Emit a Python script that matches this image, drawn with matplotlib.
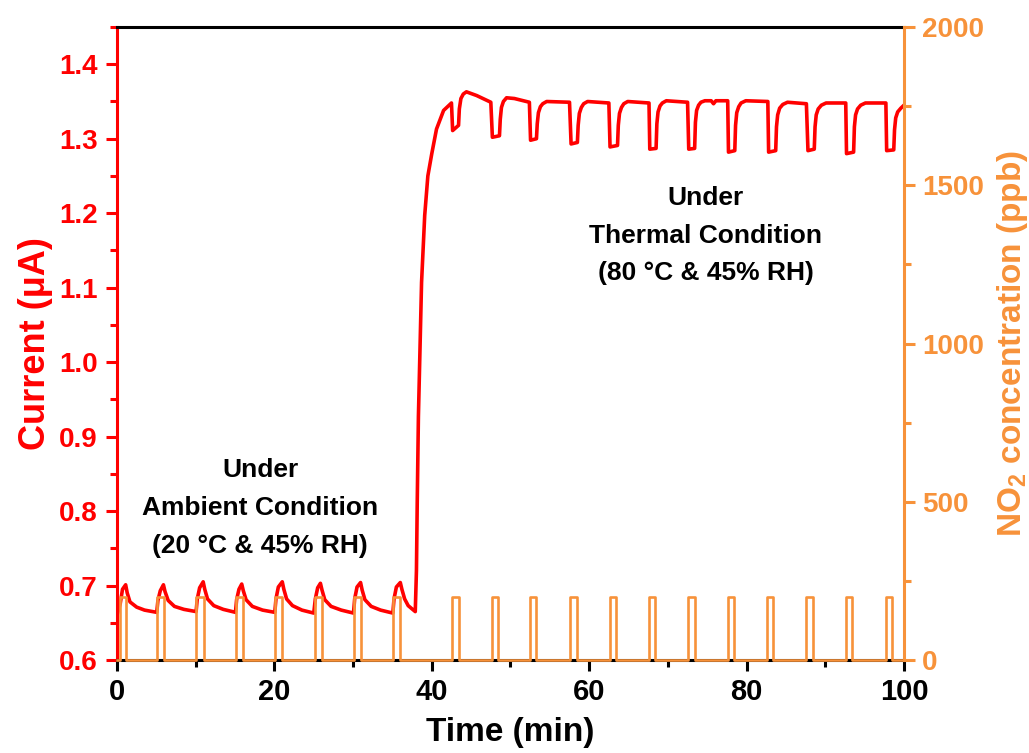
import numpy as np
import matplotlib
matplotlib.use("Agg")
import matplotlib.pyplot as plt
from matplotlib.ticker import MultipleLocator

plt.rcParams['font.family'] = ['Liberation Sans', 'DejaVu Sans']
plt.rcParams['font.weight'] = 'bold'
plt.rcParams['mathtext.fontset'] = 'custom'
plt.rcParams['mathtext.rm'] = 'Liberation Sans:bold'
plt.rcParams['mathtext.bf'] = 'Liberation Sans:bold'
plt.rcParams['mathtext.default'] = 'bf'

RED = '#ff0000'
ORANGE = '#f7923a'

# current response (min, uA)
time_min = [
    0.0, 0.4, 0.7, 1.1, 1.3, 1.65, 2.5, 3.5, 5.05,
    5.2, 5.5, 5.9, 6.1, 6.5, 7.3, 8.5, 10.05,
    10.2, 10.5, 10.95, 11.15, 11.5, 12.3, 13.5, 15.05,
    15.2, 15.5, 15.85, 16.05, 16.4, 17.2, 18.5, 20.05,
    20.2, 20.5, 21.0, 21.2, 21.55, 22.3, 23.5, 25.0,
    25.2, 25.5, 25.85, 26.05, 26.4, 27.2, 28.5, 30.05,
    30.2, 30.5, 30.95, 31.15, 31.5, 32.3, 33.5, 35.05,
    35.2, 35.5, 36.0, 36.2, 36.55, 37.0, 37.9,
    38.05, 38.15, 38.3, 38.5, 38.7, 39.1, 39.5, 40.0, 40.6, 41.5, 42.5,
    42.65, 43.4, 43.5, 43.7, 44.0, 44.4, 45.7, 47.5,
    47.7, 48.6, 48.7, 48.85, 49.1, 49.5, 50.5, 52.4,
    52.55, 53.3, 53.4, 53.55, 53.8, 54.1, 54.6, 57.5,
    57.7, 58.5, 58.6, 58.75, 59.0, 59.3, 59.8, 62.5,
    62.65, 63.6, 63.7, 63.85, 64.1, 64.4, 64.9, 67.6,
    67.7, 68.5, 68.6, 68.75, 69.0, 69.3, 69.8, 72.5,
    72.65, 73.4, 73.5, 73.65, 73.9, 74.2, 74.7, 75.5, 75.8, 76.1, 77.6,
    77.7, 78.5, 78.6, 78.75, 79.0, 79.3, 79.9, 82.7,
    82.8, 83.7, 83.8, 83.95, 84.2, 84.6, 85.2, 87.6,
    87.8, 88.6, 88.7, 88.85, 89.1, 89.5, 90.1, 92.6,
    92.7, 93.6, 93.7, 93.85, 94.1, 94.5, 95.1, 97.7,
    97.8, 98.7, 98.8, 98.95, 99.2, 99.6, 100.0,
]
current_uA = [
    0.660, 0.675, 0.695, 0.701, 0.690, 0.678, 0.671, 0.667, 0.664,
    0.680, 0.693, 0.701, 0.692, 0.680, 0.672, 0.668, 0.665,
    0.682, 0.697, 0.705, 0.695, 0.682, 0.673, 0.668, 0.664,
    0.681, 0.695, 0.702, 0.693, 0.681, 0.672, 0.667, 0.664,
    0.682, 0.698, 0.705, 0.695, 0.682, 0.673, 0.667, 0.663,
    0.682, 0.697, 0.703, 0.694, 0.681, 0.672, 0.667, 0.663,
    0.682, 0.698, 0.704, 0.694, 0.681, 0.672, 0.667, 0.663,
    0.682, 0.698, 0.704, 0.695, 0.682, 0.673, 0.665,
    0.720, 0.811, 0.927, 1.020, 1.107, 1.197, 1.250, 1.280, 1.313, 1.338, 1.348,
    1.311, 1.318, 1.340, 1.354, 1.360, 1.363, 1.358, 1.349,
    1.302, 1.304, 1.326, 1.342, 1.350, 1.355, 1.354, 1.349,
    1.298, 1.300, 1.320, 1.335, 1.343, 1.347, 1.350, 1.349,
    1.293, 1.295, 1.318, 1.334, 1.342, 1.347, 1.350, 1.348,
    1.289, 1.291, 1.318, 1.334, 1.342, 1.347, 1.350, 1.348,
    1.286, 1.287, 1.320, 1.336, 1.344, 1.348, 1.351, 1.349,
    1.286, 1.287, 1.322, 1.338, 1.345, 1.349, 1.351, 1.351, 1.347, 1.351, 1.351,
    1.282, 1.284, 1.318, 1.335, 1.343, 1.348, 1.351, 1.350,
    1.282, 1.284, 1.316, 1.332, 1.341, 1.346, 1.349, 1.347,
    1.284, 1.286, 1.316, 1.332, 1.340, 1.345, 1.348, 1.348,
    1.280, 1.282, 1.316, 1.332, 1.340, 1.345, 1.348, 1.348,
    1.284, 1.285, 1.312, 1.328, 1.336, 1.341, 1.345,
]

# NO2 pulses (min) and level (ppb)
pulse_on = [0.4, 5.1, 10.1, 15.1, 20.1, 25.1, 30.1, 35.1,
            42.6, 47.6, 52.5, 57.6, 62.6, 67.6, 72.6, 77.6, 82.6, 87.6, 92.6, 97.7]
pulse_off = [1.2, 6.0, 11.0, 16.0, 21.0, 26.0, 31.0, 36.0,
             43.4, 48.4, 53.3, 58.4, 63.4, 68.4, 73.4, 78.4, 83.4, 88.4, 93.4, 98.5]
no2_ppb = 200

# step trace for the gas
gas_t = [0.0]
gas_c = [0]
for a, b in zip(pulse_on, pulse_off):
    gas_t += [a, a, b, b]
    gas_c += [0, no2_ppb, no2_ppb, 0]
gas_t.append(100.0)
gas_c.append(0)

fig = plt.figure(figsize=(10.29, 7.53), dpi=100)
ax = fig.add_axes([0.1137, 0.1235, 0.7648, 0.8406])
ax2 = ax.twinx()

ax.plot(time_min, current_uA, color=RED, lw=2.6, zorder=3, solid_joinstyle='round')
ax2.plot(gas_t, gas_c, color=ORANGE, lw=1.9, clip_on=False, zorder=5)

ax.set_xlim(0, 100)
ax.set_ylim(0.6, 1.45)
ax2.set_ylim(0, 2000)

ax.xaxis.set_major_locator(MultipleLocator(20))
ax.xaxis.set_minor_locator(MultipleLocator(10))
ax.yaxis.set_major_locator(MultipleLocator(0.1))
ax.yaxis.set_minor_locator(MultipleLocator(0.05))
ax2.yaxis.set_major_locator(MultipleLocator(500))
ax2.yaxis.set_minor_locator(MultipleLocator(250))

for s in ['top', 'bottom']:
    ax.spines[s].set_color('black')
    ax.spines[s].set_linewidth(2.2)
ax.spines['left'].set_color(RED)
ax.spines['left'].set_linewidth(2.2)
ax.spines['right'].set_visible(False)
for s in ['top', 'bottom', 'left']:
    ax2.spines[s].set_visible(False)
ax2.spines['right'].set_color(ORANGE)
ax2.spines['right'].set_linewidth(2.2)

ax.tick_params(axis='x', which='major', direction='out', length=8, width=2.2,
               colors='black', labelsize=21, pad=5)
ax.tick_params(axis='x', which='minor', direction='out', length=5, width=2.2, colors='black')
ax.tick_params(axis='y', which='major', direction='out', length=8, width=2.2,
               colors=RED, labelsize=20, pad=6)
ax.tick_params(axis='y', which='minor', direction='out', length=5, width=2.2, colors=RED)
ax2.tick_params(axis='y', which='major', direction='out', length=8, width=2.2,
                colors=ORANGE, labelsize=20, pad=5)
ax2.tick_params(axis='y', which='minor', direction='out', length=5, width=2.2, colors=ORANGE)
for lab in ax.get_xticklabels() + ax.get_yticklabels() + ax2.get_yticklabels():
    lab.set_fontweight('bold')

ax.set_xlabel('Time (min)', fontsize=24, fontweight='bold', labelpad=8)
ax.set_ylabel('Current (μA)', fontsize=26, fontweight='bold', color=RED, labelpad=4)
ax2.set_ylabel(r'NO$_2$ concentration (ppb)', fontsize=24, fontweight='bold',
               color=ORANGE, labelpad=8)

ax.text(18.2, 0.804, 'Under\nAmbient Condition\n(20 °C & 45% RH)', ha='center', va='center',
        fontsize=19, fontweight='bold', linespacing=1.75)
ax.text(74.8, 1.170, 'Under\nThermal Condition\n(80 °C & 45% RH)', ha='center', va='center',
        fontsize=19, fontweight='bold', linespacing=1.7)

fig.savefig('out.png', dpi=100)
